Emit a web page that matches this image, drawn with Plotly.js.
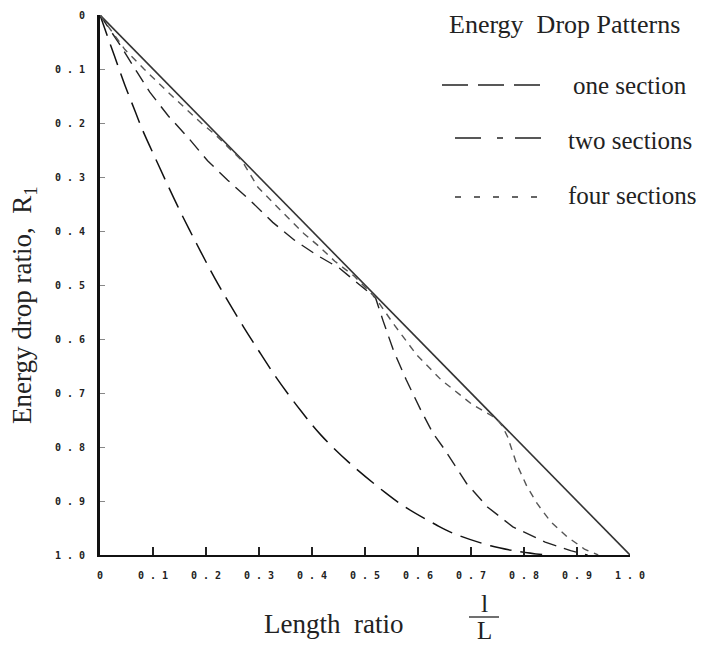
<!DOCTYPE html>
<html>
<head>
<meta charset="utf-8">
<script src="https://cdn.plot.ly/plotly-3.0.1.min.js"></script>
<style>html,body{margin:0;padding:0;background:#fff;}#chart{width:704px;height:647px;}</style>
</head>
<body>
<div id="chart"></div>
<script>
// ---- data ----
const diagX = [0, 1.0];
const diagY = [0, 1.0];

const oneX = [0, 0.016, 0.027, 0.047, 0.067, 0.079, 0.109, 0.147, 0.183, 0.222, 0.271, 0.295, 0.333, 0.379, 0.417, 0.469, 0.539, 0.577, 0.634, 0.667, 0.737, 0.775, 0.84];
const oneY = [0, 0.045, 0.075, 0.130, 0.180, 0.210, 0.275, 0.355, 0.425, 0.497, 0.578, 0.615, 0.672, 0.733, 0.778, 0.828, 0.885, 0.912, 0.944, 0.96, 0.983, 0.991, 1.0];

const twoX = [0, 0.035, 0.070, 0.094, 0.129, 0.168, 0.203, 0.241, 0.284, 0.326, 0.367, 0.408, 0.452, 0.52, 0.534, 0.554, 0.578, 0.606, 0.628, 0.649, 0.692, 0.731, 0.779, 0.84, 0.888, 0.92];
const twoY = [0, 0.051, 0.106, 0.143, 0.187, 0.229, 0.270, 0.306, 0.344, 0.384, 0.417, 0.444, 0.469, 0.524, 0.566, 0.622, 0.676, 0.733, 0.774, 0.803, 0.868, 0.911, 0.948, 0.976, 0.992, 1.0];

const fourX = [0, 0.047, 0.083, 0.137, 0.191, 0.218, 0.268, 0.298, 0.335, 0.360, 0.385, 0.414, 0.443, 0.479, 0.52, 0.553, 0.598, 0.644, 0.702, 0.749, 0.759, 0.769, 0.786, 0.805, 0.825, 0.85, 0.881, 0.914, 0.94];
const fourY = [0, 0.064, 0.100, 0.151, 0.200, 0.222, 0.270, 0.319, 0.356, 0.380, 0.405, 0.429, 0.456, 0.483, 0.524, 0.571, 0.630, 0.676, 0.721, 0.748, 0.761, 0.781, 0.831, 0.872, 0.905, 0.938, 0.966, 0.989, 1.0];

const tickVals = [0, 0.1, 0.2, 0.3, 0.4, 0.5, 0.6, 0.7, 0.8, 0.9, 1.0];
const tickText = ["0", "0 . 1", "0 . 2", "0 . 3", "0 . 4", "0 . 5", "0 . 6", "0 . 7", "0 . 8", "0 . 9", "1 . 0"];

const seriesNames = ["one section", "two sections", "four sections"];
const legendTitle = "Energy  Drop Patterns";
const xTitle = "Length  ratio";
const yTitle = "Energy drop ratio,  R<sub>1</sub>";
// -----------------------------------------

const serif = "Liberation Serif, Times New Roman, serif";
const mono = "DejaVu Sans Mono, monospace";

const traces = [
  {x: diagX, y: diagY, mode: "lines", line: {color: "#333", width: 1.6}, showlegend: false, hoverinfo: "skip"},
  {x: oneX, y: oneY, mode: "lines", name: seriesNames[0], line: {color: "#111", width: 1.5, dash: "22px,9px", shape: "spline", smoothing: 1}, showlegend: false},
  {x: twoX, y: twoY, mode: "lines", name: seriesNames[1], line: {color: "#222", width: 1.4, dash: "14px,8px", shape: "linear"}, showlegend: false},
  {x: fourX, y: fourY, mode: "lines", name: seriesNames[2], line: {color: "#555", width: 1.4, dash: "7px,6px", shape: "linear"}, showlegend: false}
];

const L = 100, R = 630, T = 15, B = 555;
const px = v => (v - L) / (R - L);
const py = v => (B - v) / (B - T);

const txt = (text, x, y, anchor, size) => ({
  text: text, x: px(x), y: py(y), xref: "paper", yref: "paper", showarrow: false,
  xanchor: anchor, yanchor: "middle", font: {family: serif, size: size, color: "#222"}
});

const annotations = [
  txt(legendTitle, 564, 25, "center", 26),
  txt(seriesNames[0], 571, 85, "left", 25),
  txt(seriesNames[1], 566, 140, "left", 25),
  txt(seriesNames[2], 566, 196, "left", 25),
  txt(xTitle, 333, 624, "center", 27),
  txt("l", 484, 603, "center", 26),
  txt("L", 484, 630, "center", 25),
  Object.assign(txt(yTitle, 24, 305, "center", 27), {textangle: -90})
];

const shapes = [
  {type: "line", xref: "paper", yref: "paper", x0: px(442), x1: px(550), y0: py(85), y1: py(85), line: {color: "#222", width: 1.3, dash: "26px,10px"}},
  {type: "line", xref: "paper", yref: "paper", x0: px(455), x1: px(543), y0: py(138), y1: py(138), line: {color: "#222", width: 1.3, dash: "26px,16px,6px,12px"}},
  {type: "line", xref: "paper", yref: "paper", x0: px(455), x1: px(546), y0: py(197), y1: py(197), line: {color: "#333", width: 1.3, dash: "6px,13px"}},
  {type: "line", xref: "paper", yref: "paper", x0: px(469), x1: px(499), y0: py(617), y1: py(617), line: {color: "#222", width: 1.3}}
];

const layout = {
  width: 704, height: 647,
  margin: {l: L, r: 704 - R, t: T, b: 647 - B},
  paper_bgcolor: "#fff", plot_bgcolor: "#fff",
  showlegend: false,
  xaxis: {
    range: [0, 1], showgrid: false, zeroline: false,
    showline: true, linecolor: "#111", linewidth: 2,
    ticks: "inside", ticklen: 8, tickwidth: 1.5, tickcolor: "#222",
    tickvals: tickVals, ticktext: tickText, ticklabelstandoff: 10,
    tickfont: {family: mono, size: 10, color: "#222", weight: "bold"}
  },
  yaxis: {
    range: [1, 0], showgrid: false, zeroline: false,
    showline: true, linecolor: "#111", linewidth: 3,
    ticks: "inside", ticklen: 5, tickwidth: 1, tickcolor: "#888",
    tickvals: tickVals, ticktext: tickText, ticklabelstandoff: 10,
    tickfont: {family: mono, size: 10, color: "#222", weight: "bold"}
  },
  annotations: annotations,
  shapes: shapes
};

Plotly.newPlot("chart", traces, layout, {staticPlot: true, displayModeBar: false});
</script>
</body>
</html>
